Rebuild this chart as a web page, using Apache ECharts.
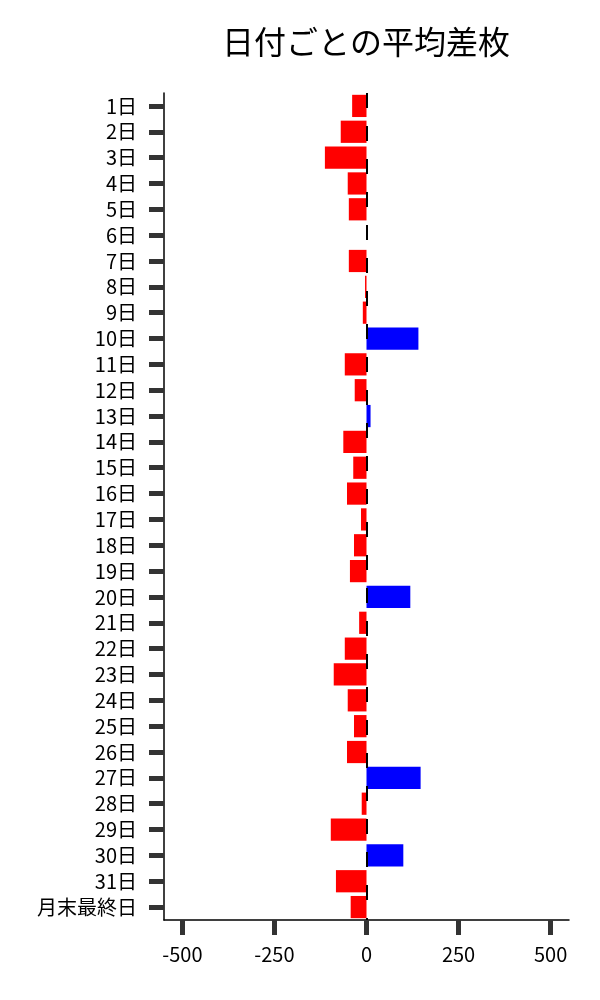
<!DOCTYPE html>
<html>
<head>
<meta charset="utf-8">
<script src="https://cdn.jsdelivr.net/npm/echarts@6/dist/echarts.min.js"></script>
<style>
html,body{margin:0;padding:0;background:#fff;}
#chart{width:600px;height:1000px;}
</style>
</head>
<body>
<div id="chart"></div>
<script>
const titleText = '日付ごとの平均差枚';
const categories = ['1日','2日','3日','4日','5日','6日','7日','8日','9日','10日','11日','12日','13日','14日','15日','16日','17日','18日','19日','20日','21日','22日','23日','24日','25日','26日','27日','28日','29日','30日','31日','月末最終日'];
const values = [-39,-70,-113,-51,-48,0,-48,-4,-10,141,-59,-32,11,-63,-36,-53,-15,-34,-45,119,-20,-59,-89,-51,-34,-53,147,-13,-97,100,-83,-43];
const xTicks = [-500,-250,0,250,500];
const xMin = -550, xMax = 550;

const FONT = '"Noto Sans CJK JP", "Noto Sans", sans-serif';
const chart = echarts.init(document.getElementById('chart'), null, {renderer:'canvas'});
chart.setOption({
  animation: false,
  backgroundColor: '#ffffff',
  textStyle: {fontFamily: FONT},
  graphic: [{
    type: 'text', x: 366, y: 42,
    style: {text: titleText, fontSize: 32, fontFamily: FONT, fill: '#000',
            align: 'center', verticalAlign: 'middle', textAlign: 'center', textVerticalAlign: 'middle'}
  }],
  grid: {left: 164, right: 31, top: 93, bottom: 80, containLabel: false},
  xAxis: {
    type: 'value', min: xMin, max: xMax,
    splitLine: {show: false},
    axisLine: {show: true, onZero: false, lineStyle: {color: '#000', width: 1.5}},
    axisTick: {show: true, length: 15, customValues: xTicks, lineStyle: {color: '#333', width: 5}},
    axisLabel: {customValues: xTicks, fontSize: 20, color: '#000', margin: 24, fontFamily: FONT}
  },
  yAxis: {
    type: 'category', data: categories, inverse: true,
    axisLine: {show: true, onZero: false, lineStyle: {color: '#000', width: 1.5}},
    axisTick: {show: true, length: 15, alignWithLabel: true, lineStyle: {color: '#333', width: 5}},
    axisLabel: {fontSize: 20, color: '#000', margin: 27, fontFamily: FONT, interval: 0},
    splitLine: {show: false}
  },
  series: [{
    type: 'bar',
    data: values,
    barWidth: '86%',
    itemStyle: {color: function(p){ return p.value >= 0 ? '#0000ff' : '#ff0000'; }},
    markLine: {
      silent: true, symbol: 'none', label: {show: false},
      lineStyle: {color: '#000', width: 2, type: [15, 18], dashOffset: 0},
      data: [{xAxis: 0}]
    }
  }]
});
</script>
</body>
</html>
